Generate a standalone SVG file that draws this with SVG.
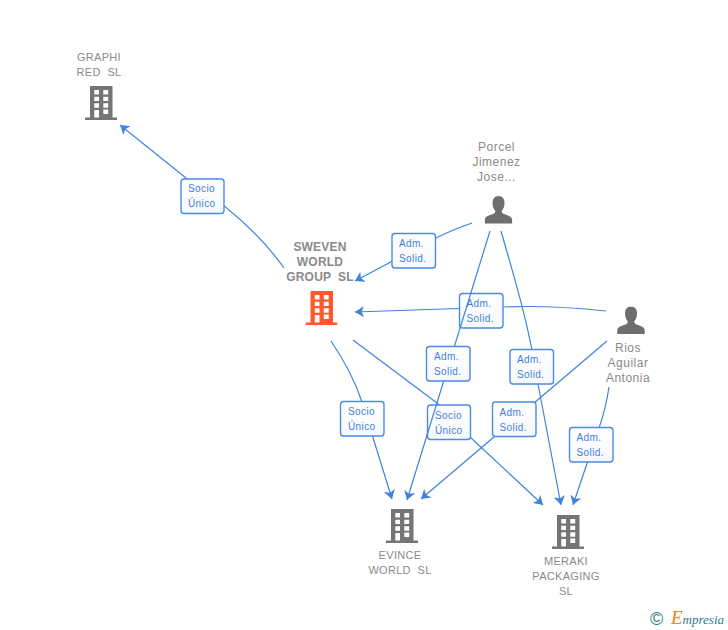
<svg xmlns="http://www.w3.org/2000/svg" width="728" height="630" viewBox="0 0 728 630">
<style>
.n{font-family:"Liberation Sans",Arial,sans-serif;font-size:11px;fill:#8a8a8a;text-anchor:middle;white-space:pre;letter-spacing:.3px}
.b{font-weight:bold;font-size:12px;letter-spacing:.2px}
.p{font-size:12px;letter-spacing:.5px}
.c{fill:none;stroke:#3f83e0;stroke-width:1.2;marker-end:url(#a)}
.l{fill:url(#g);stroke:#4a8ae4;stroke-width:1.4}
.t{font-family:"Liberation Sans",Arial,sans-serif;font-size:10px;fill:#3f7fdc;letter-spacing:.4px}
</style>
<defs>
<linearGradient id="g" x1="0" y1="0" x2="0" y2="1"><stop offset="0" stop-color="#fff"/><stop offset="1" stop-color="#f6f8fc"/></linearGradient>
<marker id="a" markerUnits="userSpaceOnUse" markerWidth="10" markerHeight="12" viewBox="0 0 10 12" refX="9" refY="6" orient="auto"><path d="M9 6 L0 .3 L2.4 6 L0 11.7 Z" fill="#3f83e0"/></marker>
<symbol id="bld" width="32" height="34" viewBox="0 0 32 34"><path fill-rule="evenodd" d="M5 0H27.500V31.500H32V34H0V31.500H5ZM9.300 4V8.500H14V4ZM18.300 4V8.500H23.200V4ZM9.300 10.700V15H14V10.700ZM18.300 10.700V15H23.200V10.700ZM9.300 17.300V21.700H14V17.300ZM18.300 17.300V21.700H23.200V17.300ZM9.300 24V31.500H14V24ZM18.300 23.500V28H23.200V23.500Z"/></symbol>
<symbol id="per" width="28" height="28" viewBox="0 0 28 28"><path d="M14 0C18 0 20 3 20 7C20 10 19 13 17.200 15C17.200 17 18.500 17.700 21 18.600C25 20 27.500 21 27.700 24V27.500H.3V24C.5 21 3 20 7 18.600C9.500 17.700 10.800 17 10.800 15C9 13 8 10 8 7C8 3 10 0 14 0Z"/></symbol>
</defs>
<g id="connectors">
<path class="c" d="M284 268C263 238 228 206 186 178L120 125"/>
<rect class="l" x="181" y="179" width="43" height="34.500" rx="3"/><text class="t" x="188" y="192">Socio</text><text class="t" x="188" y="207">Único</text>
<path class="c" d="M472 223Q452 230 436 238L355 281"/>
<rect class="l" x="392" y="233.500" width="43.500" height="34.500" rx="3"/><text class="t" x="399" y="247">Adm.</text><text class="t" x="399" y="262">Solid.</text>
<path class="c" d="M606 311Q550 305 503 307L355 312"/>
<rect class="l" x="459.500" y="293.500" width="43.500" height="34.500" rx="3"/><text class="t" x="466.500" y="307">Adm.</text><text class="t" x="466.500" y="322">Solid.</text>
<path class="c" d="M501 231C515 280 529 325 538 384L561 505"/>
<rect class="l" x="510" y="349.500" width="43.500" height="34.500" rx="3"/><text class="t" x="517" y="363">Adm.</text><text class="t" x="517" y="378">Solid.</text>
<path class="c" d="M607 341L421 499"/>
<rect class="l" x="492.500" y="402" width="43.500" height="34.500" rx="3"/><text class="t" x="499.500" y="415.500">Adm.</text><text class="t" x="499.500" y="430.500">Solid.</text>
<path class="c" d="M609 387Q606 408 599 428L573 505"/>
<rect class="l" x="569.500" y="427.500" width="43.500" height="34.500" rx="3"/><text class="t" x="576.500" y="441">Adm.</text><text class="t" x="576.500" y="456">Solid.</text>
<path class="c" d="M331 341Q352 372 362 402L392 499"/>
<rect class="l" x="340.500" y="401.500" width="43.500" height="34.500" rx="3"/><text class="t" x="348" y="415">Socio</text><text class="t" x="348" y="430">Único</text>
<path class="c" d="M353 340L437 403Q452 416 470 437L543 505"/>
<rect class="l" x="427.500" y="405" width="43" height="34.500" rx="3"/><text class="t" x="435" y="418.500">Socio</text><text class="t" x="435" y="433.500">Único</text>
<path class="c" d="M490 231L407 500"/>
<rect class="l" x="426.500" y="346.500" width="43.500" height="34.500" rx="3"/><text class="t" x="434" y="360">Adm.</text><text class="t" x="434" y="375">Solid.</text>
</g>
<g id="graphi"><use href="#bld" x="85" y="86" fill="#757575"/><text class="n" x="99" y="61">GRAPHI</text><text class="n" x="99" y="76">RED  SL</text></g>
<g id="sweven"><use href="#bld" x="305.500" y="291" fill="#ff5a2c"/><text class="n b" x="320" y="251">SWEVEN</text><text class="n b" x="320" y="266">WORLD</text><text class="n b" x="320" y="281">GROUP  SL</text></g>
<g id="porcel"><use href="#per" x="484.500" y="196" fill="#6e6e6e"/><text class="n p" x="496.500" y="151">Porcel</text><text class="n p" x="496.500" y="166">Jimenez</text><text class="n p" x="496.500" y="181">Jose...</text></g>
<g id="rios"><use href="#per" x="617" y="306.500" fill="#6e6e6e"/><text class="n p" x="628" y="352">Rios</text><text class="n p" x="628" y="367">Aguilar</text><text class="n p" x="628" y="382">Antonia</text></g>
<g id="evince"><use href="#bld" x="386" y="509" fill="#757575"/><text class="n" x="400" y="559">EVINCE</text><text class="n" x="400" y="574">WORLD  SL</text></g>
<g id="meraki"><use href="#bld" x="552" y="515" fill="#757575"/><text class="n" x="566" y="565">MERAKI</text><text class="n" x="566" y="580">PACKAGING</text><text class="n" x="566" y="595">SL</text></g>
<g id="logo"><text x="650" y="625" font-family="'Liberation Sans',sans-serif" font-size="18" fill="#2f7a8c">©</text><text x="671" y="624" font-family="'Liberation Serif',serif" font-style="italic" font-size="13" fill="#2f7a8c"><tspan font-size="19" fill="#f08020">E</tspan>mpresia</text></g>
</svg>
